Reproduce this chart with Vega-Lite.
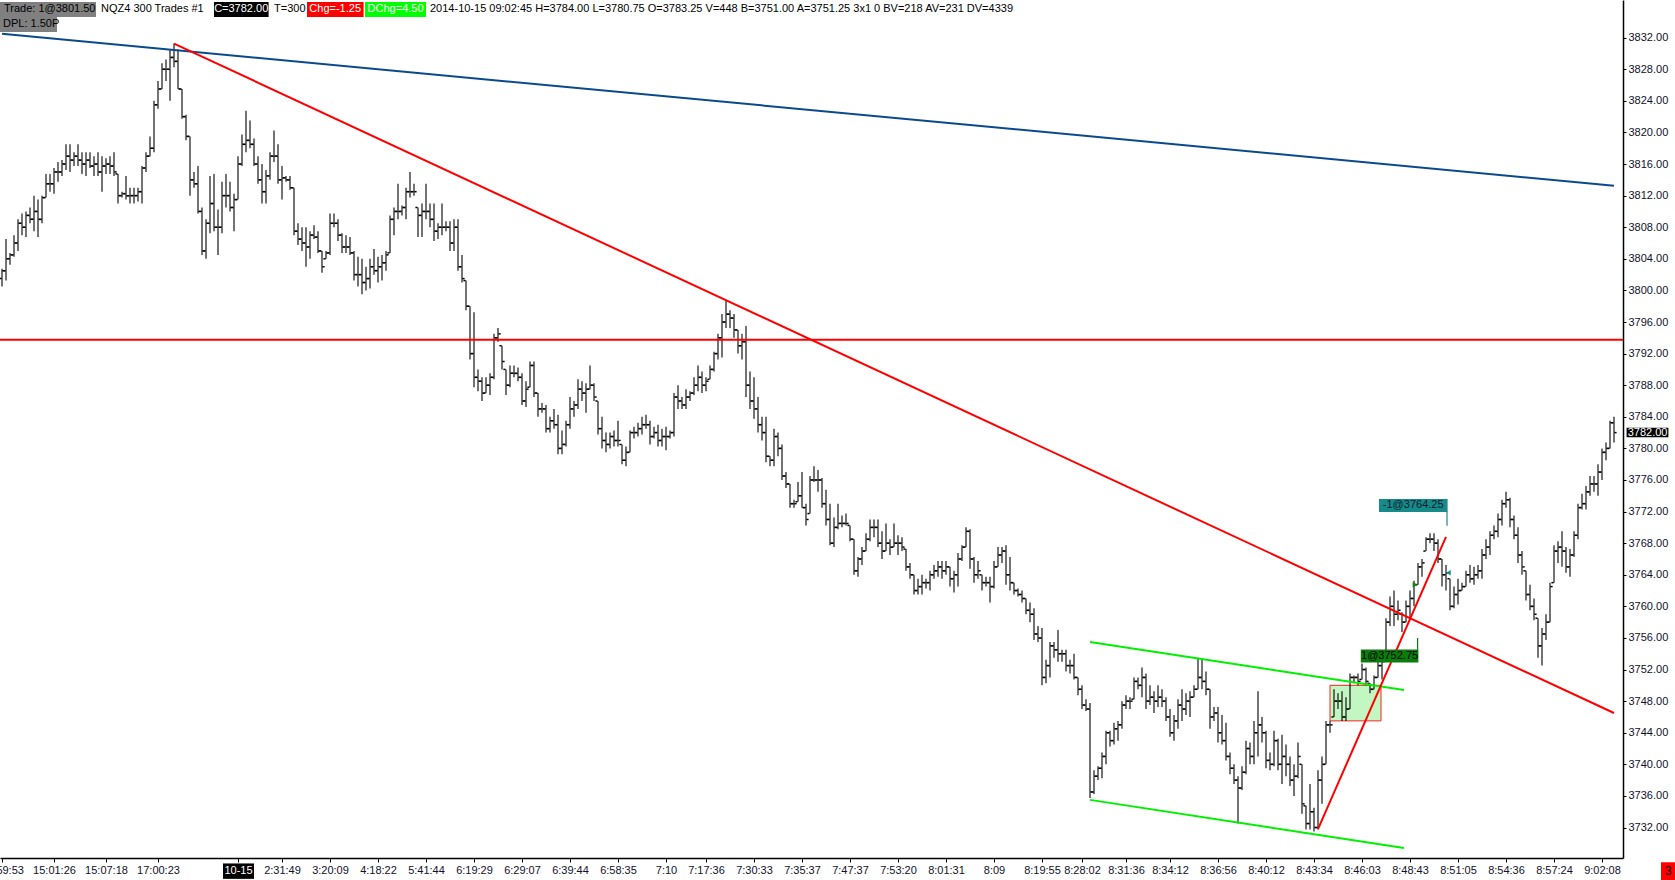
{
  "$schema": "https://vega.github.io/schema/vega-lite/v6.json",
  "width": 1623,
  "height": 858,
  "autosize": {"type": "none"},
  "padding": {"left": 0, "top": 0, "right": 52, "bottom": 22},
  "background": "white",
  "data": {"values": [{}]},
  "resolve": {"axis": {"y": "independent"}},
  "datasets": {
    "bars": [
      {"i":0,"o":3801.5,"h":3802.75,"l":3800.5,"c":3802.5},
      {"i":1,"o":3802.5,"h":3806.5,"l":3801.25,"c":3804},
      {"i":2,"o":3804,"h":3804.75,"l":3803.25,"c":3804.5},
      {"i":3,"o":3804.5,"h":3807,"l":3804.25,"c":3806},
      {"i":4,"o":3806,"h":3809,"l":3805,"c":3808.5},
      {"i":5,"o":3808.5,"h":3809.75,"l":3807,"c":3808},
      {"i":6,"o":3808,"h":3810,"l":3806.75,"c":3809.5},
      {"i":7,"o":3809.5,"h":3810.5,"l":3808.5,"c":3809},
      {"i":8,"o":3809,"h":3812,"l":3807.5,"c":3810},
      {"i":9,"o":3810,"h":3811.5,"l":3806.75,"c":3809},
      {"i":10,"o":3809,"h":3812,"l":3808.5,"c":3811.75},
      {"i":11,"o":3811.75,"h":3814.75,"l":3811.75,"c":3813.5},
      {"i":12,"o":3813.5,"h":3814.75,"l":3812.5,"c":3813.5},
      {"i":13,"o":3813.5,"h":3815.5,"l":3812.25,"c":3815},
      {"i":14,"o":3815,"h":3816.25,"l":3813.75,"c":3815},
      {"i":15,"o":3815,"h":3816.5,"l":3814.5,"c":3816},
      {"i":16,"o":3816,"h":3818.5,"l":3815.25,"c":3817},
      {"i":17,"o":3817,"h":3818.5,"l":3815,"c":3816.5},
      {"i":18,"o":3816.5,"h":3817.5,"l":3815.75,"c":3817},
      {"i":19,"o":3817,"h":3818.5,"l":3815.75,"c":3816.5},
      {"i":20,"o":3816.5,"h":3817.5,"l":3814.75,"c":3816},
      {"i":21,"o":3816,"h":3817.5,"l":3814.5,"c":3816.5},
      {"i":22,"o":3816.5,"h":3817.5,"l":3815.5,"c":3815.75},
      {"i":23,"o":3815.75,"h":3817,"l":3814.5,"c":3816},
      {"i":24,"o":3816,"h":3817.5,"l":3814.5,"c":3815},
      {"i":25,"o":3815,"h":3817,"l":3812.5,"c":3815.75},
      {"i":26,"o":3815.75,"h":3816.75,"l":3814.75,"c":3816},
      {"i":27,"o":3816,"h":3817,"l":3814.75,"c":3815.75},
      {"i":28,"o":3815.75,"h":3817.5,"l":3814.5,"c":3815},
      {"i":29,"o":3814.75,"h":3814.75,"l":3811,"c":3812},
      {"i":30,"o":3812,"h":3812.5,"l":3811.75,"c":3812.25},
      {"i":31,"o":3812.25,"h":3814.5,"l":3811.5,"c":3812},
      {"i":32,"o":3812,"h":3813,"l":3811,"c":3812},
      {"i":33,"o":3812,"h":3813,"l":3811,"c":3812},
      {"i":34,"o":3812,"h":3813,"l":3811.25,"c":3812.5},
      {"i":35,"o":3812.5,"h":3815.75,"l":3811,"c":3815.5},
      {"i":36,"o":3815.5,"h":3817.5,"l":3815,"c":3817},
      {"i":37,"o":3817,"h":3819.5,"l":3817,"c":3818},
      {"i":38,"o":3818,"h":3824,"l":3817.5,"c":3823.5},
      {"i":39,"o":3823.5,"h":3826.5,"l":3823,"c":3825.5},
      {"i":40,"o":3825.5,"h":3828.75,"l":3825.5,"c":3828},
      {"i":41,"o":3828,"h":3829.25,"l":3826.5,"c":3828},
      {"i":42,"o":3828,"h":3830.5,"l":3824,"c":3829.5},
      {"i":43,"o":3829.5,"h":3831.25,"l":3828.25,"c":3829},
      {"i":44,"o":3829,"h":3830.5,"l":3825.5,"c":3825.5},
      {"i":45,"o":3825.5,"h":3825.5,"l":3821.75,"c":3822},
      {"i":46,"o":3822,"h":3822.25,"l":3819,"c":3819.5},
      {"i":47,"o":3819.5,"h":3819.5,"l":3812,"c":3814},
      {"i":48,"o":3814,"h":3815,"l":3813,"c":3813.5},
      {"i":49,"o":3813.5,"h":3815.75,"l":3809.75,"c":3810},
      {"i":50,"o":3810,"h":3810.5,"l":3804.5,"c":3805},
      {"i":51,"o":3805,"h":3809,"l":3804,"c":3808.5},
      {"i":52,"o":3808.5,"h":3814.5,"l":3807.25,"c":3811},
      {"i":53,"o":3811,"h":3814.75,"l":3807.5,"c":3808},
      {"i":54,"o":3808,"h":3810.25,"l":3804.5,"c":3808},
      {"i":55,"o":3808,"h":3813.75,"l":3807.25,"c":3812},
      {"i":56,"o":3812,"h":3814.75,"l":3810.5,"c":3812},
      {"i":57,"o":3812,"h":3813.75,"l":3810,"c":3810.5},
      {"i":58,"o":3810.5,"h":3812.25,"l":3807.5,"c":3811.5},
      {"i":59,"o":3811.5,"h":3817,"l":3811.5,"c":3816},
      {"i":60,"o":3816,"h":3819.75,"l":3815.75,"c":3818.5},
      {"i":61,"o":3818.5,"h":3822.75,"l":3817.5,"c":3819},
      {"i":62,"o":3819,"h":3821.5,"l":3818,"c":3818.5},
      {"i":63,"o":3818.5,"h":3819.25,"l":3815.75,"c":3816},
      {"i":64,"o":3816,"h":3817,"l":3813.5,"c":3814},
      {"i":65,"o":3814,"h":3816,"l":3811,"c":3812.5},
      {"i":66,"o":3812.5,"h":3815.25,"l":3811,"c":3814.5},
      {"i":67,"o":3814.5,"h":3817.5,"l":3814,"c":3817},
      {"i":68,"o":3817,"h":3820.25,"l":3816.25,"c":3817},
      {"i":69,"o":3817,"h":3818.5,"l":3813.5,"c":3814},
      {"i":70,"o":3814,"h":3815.75,"l":3811.5,"c":3814.25},
      {"i":71,"o":3814.25,"h":3814.5,"l":3813.75,"c":3814},
      {"i":72,"o":3814,"h":3814.5,"l":3812.75,"c":3813},
      {"i":73,"o":3813,"h":3813,"l":3807,"c":3807.5},
      {"i":74,"o":3807.5,"h":3808.5,"l":3805.75,"c":3806.5},
      {"i":75,"o":3806.5,"h":3808,"l":3805,"c":3806},
      {"i":76,"o":3806,"h":3808,"l":3803,"c":3805.5},
      {"i":77,"o":3805.5,"h":3807.5,"l":3804,"c":3807},
      {"i":78,"o":3807,"h":3808.25,"l":3806.5,"c":3806.75},
      {"i":79,"o":3806.75,"h":3807.5,"l":3804.75,"c":3805},
      {"i":80,"o":3805,"h":3805,"l":3802.25,"c":3803},
      {"i":81,"o":3804,"h":3805,"l":3804,"c":3804.75},
      {"i":82,"o":3804.75,"h":3809.75,"l":3804.5,"c":3808.5},
      {"i":83,"o":3808.5,"h":3809.75,"l":3808,"c":3808.5},
      {"i":84,"o":3808.5,"h":3809,"l":3806.25,"c":3807},
      {"i":85,"o":3807,"h":3807.25,"l":3804.75,"c":3805.5},
      {"i":86,"o":3805.5,"h":3807,"l":3804.75,"c":3805.5},
      {"i":87,"o":3805.5,"h":3806.75,"l":3804.5,"c":3804.75},
      {"i":88,"o":3804.75,"h":3805,"l":3801.25,"c":3802},
      {"i":89,"o":3802,"h":3804.25,"l":3800.5,"c":3802},
      {"i":90,"o":3802,"h":3804,"l":3799.5,"c":3801},
      {"i":91,"o":3801,"h":3803,"l":3800,"c":3801.5},
      {"i":92,"o":3801.5,"h":3804,"l":3800.25,"c":3803},
      {"i":93,"o":3803,"h":3805.25,"l":3802,"c":3802.5},
      {"i":94,"o":3802.5,"h":3804.25,"l":3801,"c":3803},
      {"i":95,"o":3803,"h":3804.5,"l":3801.25,"c":3803.5},
      {"i":96,"o":3803.5,"h":3805,"l":3802.5,"c":3804.5},
      {"i":97,"o":3804.75,"h":3809.5,"l":3804.75,"c":3809},
      {"i":98,"o":3809,"h":3810.5,"l":3807,"c":3810},
      {"i":99,"o":3810,"h":3813.5,"l":3809,"c":3810},
      {"i":100,"o":3810,"h":3810.75,"l":3809.5,"c":3810.5},
      {"i":101,"o":3810.5,"h":3813,"l":3809,"c":3812.5},
      {"i":102,"o":3812.5,"h":3815,"l":3811.75,"c":3812.5},
      {"i":103,"o":3812.5,"h":3813.5,"l":3812,"c":3812.5},
      {"i":104,"o":3810.5,"h":3810.5,"l":3806.75,"c":3809.5},
      {"i":105,"o":3809.5,"h":3811,"l":3806.75,"c":3810},
      {"i":106,"o":3810,"h":3813.5,"l":3809,"c":3810},
      {"i":107,"o":3810,"h":3811,"l":3808,"c":3809},
      {"i":108,"o":3809,"h":3811,"l":3806.25,"c":3807.5},
      {"i":109,"o":3807.5,"h":3808.5,"l":3806.5,"c":3808},
      {"i":110,"o":3808,"h":3811,"l":3807,"c":3808},
      {"i":111,"o":3808,"h":3808.75,"l":3807.5,"c":3808},
      {"i":112,"o":3808,"h":3808.75,"l":3805,"c":3806},
      {"i":113,"o":3806,"h":3809,"l":3805,"c":3808},
      {"i":114,"o":3808,"h":3809,"l":3802.5,"c":3803},
      {"i":115,"o":3803,"h":3804.5,"l":3801,"c":3801.5},
      {"i":116,"o":3801.25,"h":3801.25,"l":3797.5,"c":3798},
      {"i":117,"o":3798,"h":3798,"l":3791.25,"c":3792},
      {"i":118,"o":3792,"h":3797.25,"l":3787.75,"c":3789},
      {"i":119,"o":3789,"h":3790,"l":3787.25,"c":3788.5},
      {"i":120,"o":3788.5,"h":3789,"l":3786,"c":3787},
      {"i":121,"o":3787,"h":3789,"l":3787,"c":3788},
      {"i":122,"o":3788,"h":3789.5,"l":3786.75,"c":3789},
      {"i":123,"o":3789,"h":3794.5,"l":3788.75,"c":3794},
      {"i":124,"o":3794,"h":3795.25,"l":3793.5,"c":3794.5},
      {"i":125,"o":3793,"h":3793,"l":3790,"c":3791},
      {"i":126,"o":3790,"h":3790,"l":3786.75,"c":3788},
      {"i":127,"o":3788,"h":3790.5,"l":3787.75,"c":3789.5},
      {"i":128,"o":3789.5,"h":3790.5,"l":3789,"c":3789.5},
      {"i":129,"o":3789.5,"h":3790.25,"l":3788.5,"c":3789},
      {"i":130,"o":3789,"h":3789.5,"l":3785.5,"c":3786},
      {"i":131,"o":3786,"h":3788.5,"l":3785.25,"c":3787.5},
      {"i":132,"o":3787.75,"h":3791,"l":3787.75,"c":3790.5},
      {"i":133,"o":3790.5,"h":3791,"l":3786.5,"c":3787},
      {"i":134,"o":3787,"h":3787,"l":3784,"c":3785},
      {"i":135,"o":3785,"h":3785.75,"l":3784.5,"c":3785},
      {"i":136,"o":3785,"h":3785.5,"l":3782,"c":3782.5},
      {"i":137,"o":3782.5,"h":3784,"l":3782,"c":3783.5},
      {"i":138,"o":3783.5,"h":3785,"l":3782.5,"c":3783},
      {"i":139,"o":3783,"h":3784.25,"l":3779.25,"c":3780},
      {"i":140,"o":3780,"h":3782.25,"l":3779.25,"c":3780.5},
      {"i":141,"o":3780.5,"h":3783.5,"l":3780.25,"c":3783},
      {"i":142,"o":3783,"h":3786.5,"l":3782.5,"c":3785},
      {"i":143,"o":3785,"h":3786,"l":3784,"c":3785.5},
      {"i":144,"o":3785.5,"h":3788.75,"l":3785,"c":3787.5},
      {"i":145,"o":3787.5,"h":3788.5,"l":3786,"c":3787},
      {"i":146,"o":3787,"h":3788.25,"l":3784.5,"c":3787.5},
      {"i":147,"o":3787.5,"h":3790.5,"l":3787.5,"c":3788},
      {"i":148,"o":3788,"h":3788.25,"l":3786,"c":3786.5},
      {"i":149,"o":3786,"h":3786,"l":3781.75,"c":3782.5},
      {"i":150,"o":3782.5,"h":3784,"l":3780,"c":3781},
      {"i":151,"o":3781,"h":3782,"l":3779.5,"c":3780.5},
      {"i":152,"o":3780.5,"h":3782,"l":3780,"c":3781.5},
      {"i":153,"o":3781.5,"h":3782.25,"l":3780.25,"c":3781},
      {"i":154,"o":3781,"h":3783.5,"l":3780.25,"c":3781},
      {"i":155,"o":3780.5,"h":3780.5,"l":3778,"c":3778.5},
      {"i":156,"o":3778.5,"h":3780.25,"l":3777.75,"c":3779.5},
      {"i":157,"o":3779.5,"h":3782.25,"l":3779.5,"c":3782},
      {"i":158,"o":3782,"h":3782.75,"l":3781.25,"c":3782},
      {"i":159,"o":3782,"h":3783.25,"l":3781.5,"c":3782.5},
      {"i":160,"o":3782.5,"h":3784,"l":3781.75,"c":3783},
      {"i":161,"o":3783,"h":3784.25,"l":3782.5,"c":3783},
      {"i":162,"o":3783,"h":3783.5,"l":3780.5,"c":3781.5},
      {"i":163,"o":3781.5,"h":3782.75,"l":3781.25,"c":3782},
      {"i":164,"o":3782,"h":3783,"l":3780.25,"c":3781},
      {"i":165,"o":3781,"h":3782.5,"l":3780.25,"c":3781.5},
      {"i":166,"o":3781.5,"h":3782.75,"l":3779.75,"c":3781.5},
      {"i":167,"o":3781.5,"h":3782.25,"l":3781.25,"c":3782},
      {"i":168,"o":3782,"h":3787,"l":3781.5,"c":3786.5},
      {"i":169,"o":3786.5,"h":3788,"l":3785,"c":3786},
      {"i":170,"o":3786,"h":3786.5,"l":3785,"c":3785.5},
      {"i":171,"o":3785.5,"h":3787.5,"l":3785,"c":3786.5},
      {"i":172,"o":3786.5,"h":3787.25,"l":3786,"c":3787},
      {"i":173,"o":3787,"h":3789,"l":3786.75,"c":3788},
      {"i":174,"o":3788,"h":3790.5,"l":3787.25,"c":3789},
      {"i":175,"o":3789,"h":3789.75,"l":3787,"c":3788},
      {"i":176,"o":3788,"h":3789,"l":3787.25,"c":3788.5},
      {"i":177,"o":3788.75,"h":3790.5,"l":3788.75,"c":3790},
      {"i":178,"o":3790,"h":3792.25,"l":3789.75,"c":3792},
      {"i":179,"o":3792,"h":3794.5,"l":3791.25,"c":3794},
      {"i":180,"o":3794,"h":3797,"l":3791.5,"c":3796},
      {"i":181,"o":3796,"h":3798.75,"l":3795.25,"c":3797},
      {"i":182,"o":3797,"h":3797.5,"l":3795.25,"c":3796.5},
      {"i":183,"o":3796.5,"h":3797,"l":3794,"c":3795},
      {"i":184,"o":3795,"h":3795,"l":3792,"c":3793},
      {"i":185,"o":3793,"h":3794.5,"l":3791.25,"c":3793.5},
      {"i":186,"o":3793.5,"h":3795.5,"l":3786.5,"c":3788},
      {"i":187,"o":3788,"h":3789.75,"l":3785,"c":3786},
      {"i":188,"o":3786,"h":3789,"l":3783.75,"c":3785},
      {"i":189,"o":3785,"h":3786.5,"l":3782,"c":3783},
      {"i":190,"o":3783,"h":3784,"l":3781,"c":3782},
      {"i":191,"o":3782,"h":3784,"l":3778.25,"c":3779},
      {"i":192,"o":3779,"h":3779,"l":3777.75,"c":3778.5},
      {"i":193,"o":3778.5,"h":3782.5,"l":3777.75,"c":3781.5},
      {"i":194,"o":3781.5,"h":3782,"l":3779,"c":3780},
      {"i":195,"o":3780,"h":3780.5,"l":3776,"c":3776.5},
      {"i":196,"o":3776.5,"h":3777,"l":3775,"c":3775.5},
      {"i":197,"o":3775.5,"h":3775.5,"l":3772.5,"c":3773},
      {"i":198,"o":3773,"h":3773.5,"l":3772.5,"c":3773},
      {"i":199,"o":3773.25,"h":3775.75,"l":3773.25,"c":3774},
      {"i":200,"o":3774,"h":3777,"l":3772.5,"c":3772.5},
      {"i":201,"o":3772.5,"h":3773,"l":3770.25,"c":3771},
      {"i":202,"o":3771.75,"h":3776.5,"l":3771.75,"c":3776},
      {"i":203,"o":3776,"h":3777.75,"l":3775.75,"c":3776},
      {"i":204,"o":3776,"h":3777.25,"l":3774.5,"c":3776},
      {"i":205,"o":3776,"h":3776.25,"l":3772.5,"c":3773},
      {"i":206,"o":3773,"h":3774.75,"l":3770.25,"c":3771},
      {"i":207,"o":3771,"h":3773,"l":3767.75,"c":3768},
      {"i":208,"o":3768,"h":3771.25,"l":3767.5,"c":3770},
      {"i":209,"o":3770,"h":3773,"l":3769.75,"c":3770.5},
      {"i":210,"o":3770.5,"h":3771.5,"l":3770,"c":3770.5},
      {"i":211,"o":3770.5,"h":3771.75,"l":3770.25,"c":3770.5},
      {"i":212,"o":3770.25,"h":3770.25,"l":3768.25,"c":3768.5},
      {"i":213,"o":3768.5,"h":3768.5,"l":3764,"c":3764.5},
      {"i":214,"o":3764.5,"h":3766.25,"l":3763.75,"c":3766},
      {"i":215,"o":3766,"h":3767.5,"l":3765.25,"c":3767},
      {"i":216,"o":3767,"h":3769.25,"l":3767,"c":3768.5},
      {"i":217,"o":3768.5,"h":3771,"l":3768.25,"c":3770},
      {"i":218,"o":3770,"h":3771,"l":3768.75,"c":3770},
      {"i":219,"o":3770,"h":3771,"l":3767.5,"c":3768},
      {"i":220,"o":3768,"h":3769.5,"l":3766,"c":3767},
      {"i":221,"o":3767,"h":3770.5,"l":3767,"c":3768},
      {"i":222,"o":3768,"h":3768.5,"l":3766.5,"c":3767.5},
      {"i":223,"o":3767.5,"h":3770.5,"l":3767.5,"c":3768},
      {"i":224,"o":3768,"h":3769,"l":3766.5,"c":3768},
      {"i":225,"o":3768,"h":3768.75,"l":3767,"c":3767.5},
      {"i":226,"o":3767.25,"h":3767.25,"l":3764.5,"c":3765},
      {"i":227,"o":3765,"h":3765.5,"l":3763.5,"c":3764},
      {"i":228,"o":3764,"h":3764,"l":3761.5,"c":3762},
      {"i":229,"o":3762,"h":3763.5,"l":3761.5,"c":3762.5},
      {"i":230,"o":3762.5,"h":3764,"l":3761.5,"c":3763},
      {"i":231,"o":3763,"h":3763.5,"l":3762.25,"c":3763},
      {"i":232,"o":3763,"h":3764.5,"l":3762,"c":3764},
      {"i":233,"o":3764,"h":3765.25,"l":3763.5,"c":3764.5},
      {"i":234,"o":3764.5,"h":3765.75,"l":3763.75,"c":3765},
      {"i":235,"o":3765,"h":3765.75,"l":3763.5,"c":3764.5},
      {"i":236,"o":3764.5,"h":3765.75,"l":3764,"c":3765},
      {"i":237,"o":3765,"h":3765,"l":3762.5,"c":3763.5},
      {"i":238,"o":3763.5,"h":3764.5,"l":3761.75,"c":3764},
      {"i":239,"o":3764,"h":3766.75,"l":3762.5,"c":3766},
      {"i":240,"o":3766,"h":3767.75,"l":3765.75,"c":3767.5},
      {"i":241,"o":3767.5,"h":3770,"l":3767.5,"c":3769.5},
      {"i":242,"o":3769.5,"h":3769.75,"l":3764.75,"c":3766},
      {"i":243,"o":3766,"h":3766.25,"l":3763,"c":3764},
      {"i":244,"o":3764,"h":3765.75,"l":3763.5,"c":3764.5},
      {"i":245,"o":3764,"h":3764,"l":3762,"c":3763},
      {"i":246,"o":3763,"h":3763.75,"l":3762.5,"c":3763},
      {"i":247,"o":3763,"h":3763.75,"l":3760.5,"c":3762.5},
      {"i":248,"o":3762.5,"h":3765.75,"l":3762.25,"c":3765},
      {"i":249,"o":3765,"h":3767.5,"l":3765,"c":3766.5},
      {"i":250,"o":3766.5,"h":3767.5,"l":3765.5,"c":3767},
      {"i":251,"o":3767,"h":3767.75,"l":3762.75,"c":3764},
      {"i":252,"o":3764,"h":3766.25,"l":3762,"c":3763},
      {"i":253,"o":3763,"h":3763,"l":3761.5,"c":3762},
      {"i":254,"o":3762,"h":3762.25,"l":3761.25,"c":3761.5},
      {"i":255,"o":3761.5,"h":3762,"l":3760.5,"c":3761},
      {"i":256,"o":3761,"h":3761,"l":3759,"c":3759.5},
      {"i":257,"o":3759.5,"h":3760.5,"l":3758,"c":3759},
      {"i":258,"o":3759,"h":3759.75,"l":3755.75,"c":3756.5},
      {"i":259,"o":3756.5,"h":3757.5,"l":3755.5,"c":3756},
      {"i":260,"o":3756,"h":3757.25,"l":3750,"c":3751},
      {"i":261,"o":3751,"h":3753.25,"l":3750.25,"c":3752.5},
      {"i":262,"o":3752.5,"h":3755.5,"l":3751,"c":3755},
      {"i":263,"o":3755,"h":3755.5,"l":3753.5,"c":3754.5},
      {"i":264,"o":3754.5,"h":3757,"l":3753,"c":3754},
      {"i":265,"o":3754,"h":3754.5,"l":3753,"c":3754},
      {"i":266,"o":3754,"h":3754.5,"l":3751.75,"c":3752.5},
      {"i":267,"o":3752.5,"h":3753.25,"l":3751.5,"c":3752.5},
      {"i":268,"o":3752.5,"h":3754,"l":3750.75,"c":3751},
      {"i":269,"o":3751,"h":3751,"l":3748.75,"c":3749.5},
      {"i":270,"o":3749.5,"h":3750,"l":3747,"c":3747.5},
      {"i":271,"o":3747.5,"h":3748.25,"l":3746.75,"c":3747},
      {"i":272,"o":3747,"h":3747.75,"l":3735.75,"c":3736.5},
      {"i":273,"o":3736.5,"h":3739.25,"l":3736.25,"c":3738.5},
      {"i":274,"o":3738.5,"h":3739.75,"l":3738,"c":3739.5},
      {"i":275,"o":3739.5,"h":3741.5,"l":3738.25,"c":3741},
      {"i":276,"o":3741,"h":3744.25,"l":3740,"c":3744},
      {"i":277,"o":3744,"h":3744.25,"l":3742.25,"c":3743},
      {"i":278,"o":3743,"h":3745.25,"l":3742.5,"c":3744.5},
      {"i":279,"o":3744.5,"h":3745.5,"l":3743,"c":3745},
      {"i":280,"o":3745,"h":3748,"l":3744.5,"c":3747.5},
      {"i":281,"o":3747.5,"h":3748.75,"l":3747,"c":3748},
      {"i":282,"o":3748,"h":3748.5,"l":3747,"c":3748},
      {"i":283,"o":3748.25,"h":3751,"l":3748.25,"c":3750.5},
      {"i":284,"o":3750.5,"h":3751,"l":3749.5,"c":3750},
      {"i":285,"o":3750,"h":3752.25,"l":3748.5,"c":3751},
      {"i":286,"o":3751,"h":3751.5,"l":3747,"c":3748},
      {"i":287,"o":3748,"h":3750,"l":3747.5,"c":3748.5},
      {"i":288,"o":3748.5,"h":3749.25,"l":3746.5,"c":3748},
      {"i":289,"o":3748,"h":3750,"l":3747.25,"c":3748.5},
      {"i":290,"o":3748.5,"h":3749.5,"l":3747.25,"c":3748},
      {"i":291,"o":3748,"h":3748.5,"l":3745.5,"c":3746},
      {"i":292,"o":3746,"h":3747,"l":3743.5,"c":3744},
      {"i":293,"o":3744,"h":3746.25,"l":3743,"c":3745.5},
      {"i":294,"o":3745.5,"h":3748.25,"l":3744.5,"c":3747.5},
      {"i":295,"o":3747.5,"h":3749.5,"l":3745.5,"c":3747},
      {"i":296,"o":3747,"h":3749,"l":3746.25,"c":3748},
      {"i":297,"o":3748,"h":3749.25,"l":3746,"c":3748.5},
      {"i":298,"o":3748.5,"h":3750,"l":3748.5,"c":3749.5},
      {"i":299,"o":3749.5,"h":3753.5,"l":3749.5,"c":3751},
      {"i":300,"o":3751,"h":3753.25,"l":3749.5,"c":3750.5},
      {"i":301,"o":3750.5,"h":3751.75,"l":3748.75,"c":3749.5},
      {"i":302,"o":3749.5,"h":3749.5,"l":3744.5,"c":3746},
      {"i":303,"o":3746,"h":3747.25,"l":3745.5,"c":3746.5},
      {"i":304,"o":3746.5,"h":3747.25,"l":3742.75,"c":3744},
      {"i":305,"o":3744,"h":3746.25,"l":3742.5,"c":3743},
      {"i":306,"o":3743,"h":3745.25,"l":3740.5,"c":3741},
      {"i":307,"o":3741,"h":3741.5,"l":3738.75,"c":3739.5},
      {"i":308,"o":3739.5,"h":3740,"l":3737.5,"c":3738},
      {"i":309,"o":3738,"h":3738.5,"l":3732.5,"c":3737},
      {"i":310,"o":3737,"h":3739.75,"l":3736.75,"c":3739},
      {"i":311,"o":3739,"h":3743,"l":3738.75,"c":3742},
      {"i":312,"o":3742,"h":3742.75,"l":3740,"c":3741},
      {"i":313,"o":3741,"h":3745.5,"l":3740,"c":3744},
      {"i":314,"o":3744,"h":3749.25,"l":3741,"c":3745},
      {"i":315,"o":3745,"h":3746,"l":3742.75,"c":3744},
      {"i":316,"o":3744,"h":3744.25,"l":3739.5,"c":3740.5},
      {"i":317,"o":3740.5,"h":3741.5,"l":3739.25,"c":3740},
      {"i":318,"o":3740,"h":3744.25,"l":3739.75,"c":3743},
      {"i":319,"o":3743,"h":3743.25,"l":3739.25,"c":3740},
      {"i":320,"o":3740,"h":3743.75,"l":3737.5,"c":3741},
      {"i":321,"o":3741,"h":3742.5,"l":3738.5,"c":3740},
      {"i":322,"o":3740,"h":3741,"l":3737.25,"c":3738},
      {"i":323,"o":3738,"h":3740,"l":3736,"c":3738.5},
      {"i":324,"o":3738.5,"h":3742.75,"l":3738.25,"c":3741},
      {"i":325,"o":3740,"h":3740,"l":3733.75,"c":3735},
      {"i":326,"o":3734.75,"h":3734.75,"l":3731.75,"c":3732.5},
      {"i":327,"o":3732.5,"h":3737.5,"l":3731.75,"c":3734},
      {"i":328,"o":3734,"h":3734.5,"l":3731.5,"c":3732},
      {"i":329,"o":3732,"h":3739.25,"l":3731.75,"c":3738},
      {"i":330,"o":3738,"h":3741,"l":3735,"c":3740},
      {"i":331,"o":3740,"h":3745.5,"l":3740,"c":3745},
      {"i":332,"o":3745,"h":3745.5,"l":3744,"c":3745},
      {"i":333,"o":3746,"h":3749.5,"l":3746,"c":3748},
      {"i":334,"o":3748,"h":3749,"l":3747,"c":3748},
      {"i":335,"o":3748,"h":3749.25,"l":3745.5,"c":3746},
      {"i":336,"o":3746,"h":3748.5,"l":3745.5,"c":3747},
      {"i":337,"o":3747,"h":3751.5,"l":3747,"c":3751},
      {"i":338,"o":3751,"h":3751.25,"l":3750.25,"c":3751},
      {"i":339,"o":3751,"h":3751.5,"l":3750,"c":3750.5},
      {"i":340,"o":3750.75,"h":3752.75,"l":3750.75,"c":3752},
      {"i":341,"o":3752,"h":3752.25,"l":3750,"c":3750.5},
      {"i":342,"o":3750.25,"h":3750.25,"l":3749,"c":3749.5},
      {"i":343,"o":3749.5,"h":3751.25,"l":3749.5,"c":3751},
      {"i":344,"o":3751,"h":3753,"l":3751,"c":3752.5},
      {"i":345,"o":3752.5,"h":3753.5,"l":3750.75,"c":3753},
      {"i":346,"o":3753.75,"h":3758.5,"l":3753.75,"c":3758},
      {"i":347,"o":3758,"h":3761.25,"l":3757.5,"c":3760},
      {"i":348,"o":3760,"h":3762,"l":3757.5,"c":3759},
      {"i":349,"o":3759,"h":3760.75,"l":3758.25,"c":3759.5},
      {"i":350,"o":3759,"h":3759.25,"l":3756.75,"c":3758},
      {"i":351,"o":3758,"h":3760.75,"l":3758,"c":3760},
      {"i":352,"o":3760,"h":3762,"l":3758.25,"c":3761},
      {"i":353,"o":3761,"h":3763.25,"l":3760,"c":3762.75},
      {"i":354,"o":3762.75,"h":3765.5,"l":3762.75,"c":3765},
      {"i":355,"o":3765,"h":3766,"l":3763.75,"c":3765.5},
      {"i":356,"o":3767,"h":3768.75,"l":3767,"c":3768.5},
      {"i":357,"o":3768.5,"h":3769.25,"l":3768,"c":3768.5},
      {"i":358,"o":3768.5,"h":3769.25,"l":3767,"c":3768},
      {"i":359,"o":3768,"h":3768.5,"l":3765.5,"c":3766},
      {"i":360,"o":3766,"h":3766,"l":3762.5,"c":3764},
      {"i":361,"o":3764,"h":3765.25,"l":3762,"c":3764.25},
      {"i":362,"o":3763.5,"h":3763.5,"l":3759.5,"c":3760},
      {"i":363,"o":3760,"h":3762.5,"l":3759.75,"c":3761.5},
      {"i":364,"o":3761.5,"h":3763.5,"l":3760.25,"c":3762},
      {"i":365,"o":3762,"h":3763,"l":3762,"c":3762.5},
      {"i":366,"o":3762.5,"h":3764.5,"l":3762.5,"c":3764},
      {"i":367,"o":3764,"h":3765.25,"l":3763,"c":3763.5},
      {"i":368,"o":3763.5,"h":3765,"l":3762.75,"c":3764},
      {"i":369,"o":3764,"h":3765.25,"l":3763.5,"c":3764.5},
      {"i":370,"o":3764.5,"h":3767.25,"l":3763.5,"c":3766.5},
      {"i":371,"o":3766.5,"h":3768.5,"l":3766,"c":3767.5},
      {"i":372,"o":3767.5,"h":3769.5,"l":3766.5,"c":3769},
      {"i":373,"o":3769,"h":3770.25,"l":3768.5,"c":3769.5},
      {"i":374,"o":3769.5,"h":3771.75,"l":3768.75,"c":3771},
      {"i":375,"o":3771,"h":3773.5,"l":3770.25,"c":3773},
      {"i":376,"o":3773,"h":3774.5,"l":3772.5,"c":3773.5},
      {"i":377,"o":3773.5,"h":3773.75,"l":3770,"c":3771},
      {"i":378,"o":3771,"h":3771.5,"l":3768.5,"c":3769},
      {"i":379,"o":3769,"h":3770,"l":3765.5,"c":3766.5},
      {"i":380,"o":3766.5,"h":3767,"l":3764,"c":3765},
      {"i":381,"o":3764.5,"h":3764.5,"l":3760.75,"c":3761.5},
      {"i":382,"o":3761.5,"h":3762.75,"l":3759.5,"c":3760},
      {"i":383,"o":3760,"h":3761,"l":3758.25,"c":3759},
      {"i":384,"o":3758.5,"h":3758.5,"l":3753.5,"c":3755},
      {"i":385,"o":3755,"h":3757.25,"l":3752.5,"c":3756.5},
      {"i":386,"o":3756.5,"h":3759,"l":3755.75,"c":3758},
      {"i":387,"o":3758,"h":3763,"l":3758,"c":3762.5},
      {"i":388,"o":3763,"h":3767.75,"l":3763,"c":3767},
      {"i":389,"o":3767,"h":3768.25,"l":3765.5,"c":3767.5},
      {"i":390,"o":3767.5,"h":3769.5,"l":3765,"c":3767},
      {"i":391,"o":3767,"h":3767.5,"l":3764.25,"c":3765},
      {"i":392,"o":3765,"h":3767.25,"l":3763.75,"c":3766.5},
      {"i":393,"o":3766.5,"h":3769.5,"l":3766.25,"c":3769},
      {"i":394,"o":3769,"h":3773,"l":3768.5,"c":3772.5},
      {"i":395,"o":3772.5,"h":3774.25,"l":3772.25,"c":3773},
      {"i":396,"o":3773,"h":3775.25,"l":3772.25,"c":3774.5},
      {"i":397,"o":3774.5,"h":3776.5,"l":3774,"c":3775.5},
      {"i":398,"o":3775.5,"h":3776.5,"l":3774.5,"c":3775.5},
      {"i":399,"o":3775.5,"h":3778,"l":3774,"c":3777},
      {"i":400,"o":3777,"h":3780,"l":3776,"c":3779.5},
      {"i":401,"o":3779.5,"h":3780.75,"l":3778.5,"c":3780},
      {"i":402,"o":3780,"h":3783.5,"l":3780,"c":3783.25},
      {"i":403,"o":3783.25,"h":3784,"l":3780.75,"c":3782}
    ],
    "lines": [
      {"id":"blue","i":0,"p":3832.5},
      {"id":"blue","i":403,"p":3813.25},
      {"id":"red","i":43,"p":3831.25},
      {"id":"red","i":403,"p":3746.5},
      {"id":"level","i":-0.5,"p":3793.75},
      {"id":"level","i":405.25,"p":3793.75},
      {"id":"upper","i":272,"p":3755.5},
      {"id":"upper","i":350.5,"p":3749.4},
      {"id":"lower","i":272,"p":3735.5},
      {"id":"lower","i":350.5,"p":3729.4},
      {"id":"steep","i":329,"p":3731.8},
      {"id":"steep","i":361,"p":3768.8}
    ]
  },
  "layer": [
    {
      "mark": {"type": "rect", "fill": "#c2f7c2", "stroke": "#ff2020", "strokeWidth": 1},
      "encoding": {
        "x": {"datum": 332, "type": "quantitative", "scale": {"domain": [-0.5, 405.25], "nice": false, "zero": false},
          "axis": {
            "orient": "bottom",
            "title": null,
            "grid": false,
            "zindex": 1,
            "values": [0,13,26,39,59,70,82,94,106,118,130,142,154,166,176,188,200,212,224,236,248,260,270,281,292,304,316,328,340,352,364,376,388,400],
            "labelExpr": "['14:59:53','15:01:26','15:07:18','17:00:23','10-15','2:31:49','3:20:09','4:18:22','5:41:44','6:19:29','6:29:07','6:39:44','6:58:35','7:10','7:17:36','7:30:33','7:35:37','7:47:37','7:53:20','8:01:31','8:09','8:19:55','8:28:02','8:31:36','8:34:12','8:36:56','8:40:12','8:43:34','8:46:03','8:48:43','8:51:05','8:54:36','8:57:24','9:02:08'][indexof([0,13,26,39,59,70,82,94,106,118,130,142,154,166,176,188,200,212,224,236,248,260,270,281,292,304,316,328,340,352,364,376,388,400], datum.value)]",
            "labelFlush": false,
            "labelOverlap": false,
            "labelFont": "Liberation Sans",
            "labelFontSize": 11,
            "labelColor": {"condition": {"test": "datum.value === 59", "value": "#ffffff"}, "value": "#10102a"},
            "labelPadding": 2,
            "tickSize": 4,
            "tickColor": "#000000",
            "domainColor": "#000000",
            "domainWidth": 1.5
          }
        },
        "x2": {"datum": 344.75},
        "y": {"datum": 3750, "type": "quantitative", "scale": {"domain": [3728.14, 3836.77], "nice": false, "zero": false},
          "axis": {
            "orient": "right",
            "title": null,
            "grid": false,
            "values": [3732,3736,3740,3744,3748,3752,3756,3760,3764,3768,3772,3776,3780,3784,3788,3792,3796,3800,3804,3808,3812,3816,3820,3824,3828,3832],
            "format": ".2f",
            "labelOverlap": false,
            "labelBound": false,
            "labelSeparation": 0,
            "labelFont": "Liberation Sans",
            "labelFontSize": 11,
            "labelColor": "#10102a",
            "labelPadding": 2,
            "tickSize": 3,
            "tickColor": "#000000",
            "domainColor": "#000000",
            "domainWidth": 1.5
          }
        },
        "y2": {"datum": 3745.5}
      }
    },
    {
      "data": {"name": "bars"},
      "layer": [
        {
          "mark": {"type": "rule", "color": "#000000", "strokeWidth": 1.1},
          "encoding": {
            "x": {"field": "i", "type": "quantitative"},
            "y": {"field": "l", "type": "quantitative", "axis": null},
            "y2": {"field": "h"}
          }
        },
        {
          "mark": {"type": "tick", "orient": "horizontal", "color": "#000000", "size": 2.2, "thickness": 1.5, "xOffset": -1.5, "opacity": 1},
          "encoding": {
            "x": {"field": "i", "type": "quantitative"},
            "y": {"field": "o", "type": "quantitative", "axis": null}
          }
        },
        {
          "mark": {"type": "tick", "orient": "horizontal", "color": "#000000", "size": 2.2, "thickness": 1.5, "xOffset": 1.5, "opacity": 1},
          "encoding": {
            "x": {"field": "i", "type": "quantitative"},
            "y": {"field": "c", "type": "quantitative", "axis": null}
          }
        }
      ]
    },
    {
      "data": {"name": "lines"},
      "mark": {"type": "line", "strokeWidth": 2},
      "encoding": {
        "x": {"field": "i", "type": "quantitative"},
        "y": {"field": "p", "type": "quantitative", "axis": null},
        "detail": {"field": "id"},
        "color": {
          "field": "id",
          "type": "nominal",
          "scale": {"domain": ["blue", "red", "level", "upper", "lower", "steep"], "range": ["#0a4a8c", "#ff0000", "#ff0000", "#00f000", "#00f000", "#ff0000"]},
          "legend": null
        }
      }
    },
    {
      "mark": {"type": "rule", "color": "#0a7a0a", "strokeWidth": 1.2},
      "encoding": {"x": {"datum": 353.9}, "y": {"datum": 3754.5, "axis": null}, "y2": {"datum": 3756}}
    },
    {
      "mark": {"type": "rect", "fill": "#0b7d0b"},
      "encoding": {"x": {"datum": 339.7}, "x2": {"datum": 354.1}, "y": {"datum": 3752.9, "axis": null}, "y2": {"datum": 3754.55}}
    },
    {
      "mark": {"type": "text", "text": "1@3752.75", "font": "Liberation Sans", "fontSize": 11, "color": "#000000", "align": "center", "baseline": "middle"},
      "encoding": {"x": {"datum": 346.9}, "y": {"datum": 3753.72, "axis": null}}
    },
    {
      "mark": {"type": "rule", "color": "#178a8a", "strokeWidth": 1.2},
      "encoding": {"x": {"datum": 361.25}, "y": {"datum": 3770.2, "axis": null}, "y2": {"datum": 3772}}
    },
    {
      "mark": {"type": "rect", "fill": "#178a8a"},
      "encoding": {"x": {"datum": 344.25}, "x2": {"datum": 361.4}, "y": {"datum": 3771.95, "axis": null}, "y2": {"datum": 3773.6}}
    },
    {
      "mark": {"type": "text", "text": "-1@3764.25", "font": "Liberation Sans", "fontSize": 11, "color": "#0a2030", "align": "center", "baseline": "middle"},
      "encoding": {"x": {"datum": 352.8}, "y": {"datum": 3772.78, "axis": null}}
    },
    {
      "mark": {"type": "point", "shape": "triangle-right", "filled": true, "color": "#0a8a0a", "size": 30, "opacity": 1},
      "encoding": {"x": {"datum": 353.25}, "y": {"datum": 3762.75, "axis": null}}
    },
    {
      "mark": {"type": "point", "shape": "triangle-left", "filled": true, "color": "#178a8a", "size": 30, "opacity": 1},
      "encoding": {"x": {"datum": 361.6}, "y": {"datum": 3764.25, "axis": null}}
    },
    {
      "mark": {"type": "rect", "fill": "#000000"},
      "encoding": {"x": {"datum": 55.25}, "x2": {"datum": 63}, "y": {"datum": 3727.45, "axis": null}, "y2": {"datum": 3725.5}}
    },
    {
      "mark": {"type": "rect", "fill": "#000000"},
      "encoding": {"x": {"datum": 406.15}, "x2": {"datum": 416.6}, "y": {"datum": 3782.62, "axis": null}, "y2": {"datum": 3781.4}}
    },
    {
      "mark": {"type": "text", "text": "3782.00", "font": "Liberation Sans", "fontSize": 11, "color": "#ffffff", "align": "center", "baseline": "middle"},
      "encoding": {"x": {"datum": 411.4}, "y": {"datum": 3782.0, "axis": null}}
    },
    {
      "mark": {"type": "rect", "fill": "#ff0000"},
      "encoding": {"x": {"datum": 414.75}, "x2": {"datum": 418.5}, "y": {"datum": 3727.6, "axis": null}, "y2": {"datum": 3725.3}}
    },
    {
      "mark": {"type": "text", "text": "3", "font": "Liberation Sans", "fontSize": 12, "color": "#000000", "align": "center", "baseline": "middle"},
      "encoding": {"x": {"datum": 416.6}, "y": {"datum": 3726.45, "axis": null}}
    },
    {
      "mark": {"type": "rect", "fill": "#808080"},
      "encoding": {"x": {"datum": -0.5}, "x2": {"datum": 23.5}, "y": {"datum": 3836.52, "axis": null}, "y2": {"datum": 3834.62}}
    },
    {
      "mark": {"type": "rect", "fill": "#808080"},
      "encoding": {"x": {"datum": -0.5}, "x2": {"datum": 13.75}, "y": {"datum": 3834.62, "axis": null}, "y2": {"datum": 3832.72}}
    },
    {
      "mark": {"type": "rect", "fill": "#000000"},
      "encoding": {"x": {"datum": 53}, "x2": {"datum": 66.65}, "y": {"datum": 3836.52, "axis": null}, "y2": {"datum": 3834.62}}
    },
    {
      "mark": {"type": "rect", "fill": "#ff0000"},
      "encoding": {"x": {"datum": 76.25}, "x2": {"datum": 90.4}, "y": {"datum": 3836.52, "axis": null}, "y2": {"datum": 3834.62}}
    },
    {
      "mark": {"type": "rect", "fill": "#00ff00"},
      "encoding": {"x": {"datum": 90.75}, "x2": {"datum": 106}, "y": {"datum": 3836.52, "axis": null}, "y2": {"datum": 3834.62}}
    },
    {
      "mark": {"type": "text", "text": "Trade: 1@3801.50", "font": "Liberation Sans", "fontSize": 11, "color": "#000000", "align": "left", "baseline": "middle"},
      "encoding": {"x": {"datum": 0.5}, "y": {"datum": 3835.57, "axis": null}}
    },
    {
      "mark": {"type": "text", "text": "NQZ4  300 Trades  #1", "font": "Liberation Sans", "fontSize": 11, "color": "#000000", "align": "left", "baseline": "middle"},
      "encoding": {"x": {"datum": 24.75}, "y": {"datum": 3835.57, "axis": null}}
    },
    {
      "mark": {"type": "text", "text": "C=3782.00", "font": "Liberation Sans", "fontSize": 11, "color": "#ffffff", "align": "center", "baseline": "middle"},
      "encoding": {"x": {"datum": 59.8}, "y": {"datum": 3835.57, "axis": null}}
    },
    {
      "mark": {"type": "text", "text": "T=300", "font": "Liberation Sans", "fontSize": 11, "color": "#000000", "align": "left", "baseline": "middle"},
      "encoding": {"x": {"datum": 68}, "y": {"datum": 3835.57, "axis": null}}
    },
    {
      "mark": {"type": "text", "text": "Chg=-1.25", "font": "Liberation Sans", "fontSize": 11, "color": "#ffffff", "align": "center", "baseline": "middle"},
      "encoding": {"x": {"datum": 83.3}, "y": {"datum": 3835.57, "axis": null}}
    },
    {
      "mark": {"type": "text", "text": "DChg=4.50", "font": "Liberation Sans", "fontSize": 11, "color": "#ffffff", "align": "center", "baseline": "middle"},
      "encoding": {"x": {"datum": 98.4}, "y": {"datum": 3835.57, "axis": null}}
    },
    {
      "mark": {"type": "text", "text": "2014-10-15 09:02:45 H=3784.00 L=3780.75 O=3783.25 V=448 B=3751.00 A=3751.25 3x1 0 BV=218 AV=231 DV=4339", "font": "Liberation Sans", "fontSize": 11, "color": "#000000", "align": "left", "baseline": "middle"},
      "encoding": {"x": {"datum": 107}, "y": {"datum": 3835.57, "axis": null}}
    },
    {
      "mark": {"type": "text", "text": "DPL: 1.50P", "font": "Liberation Sans", "fontSize": 11, "color": "#000000", "align": "left", "baseline": "middle"},
      "encoding": {"x": {"datum": 0.25}, "y": {"datum": 3833.67, "axis": null}}
    }
  ],
  "config": {
    "view": {"stroke": null},
    "font": "Liberation Sans",
    "axis": {"labelOverlap": false},
    "axisY": {"labelOverlap": false, "labelBound": false}
  }
}
